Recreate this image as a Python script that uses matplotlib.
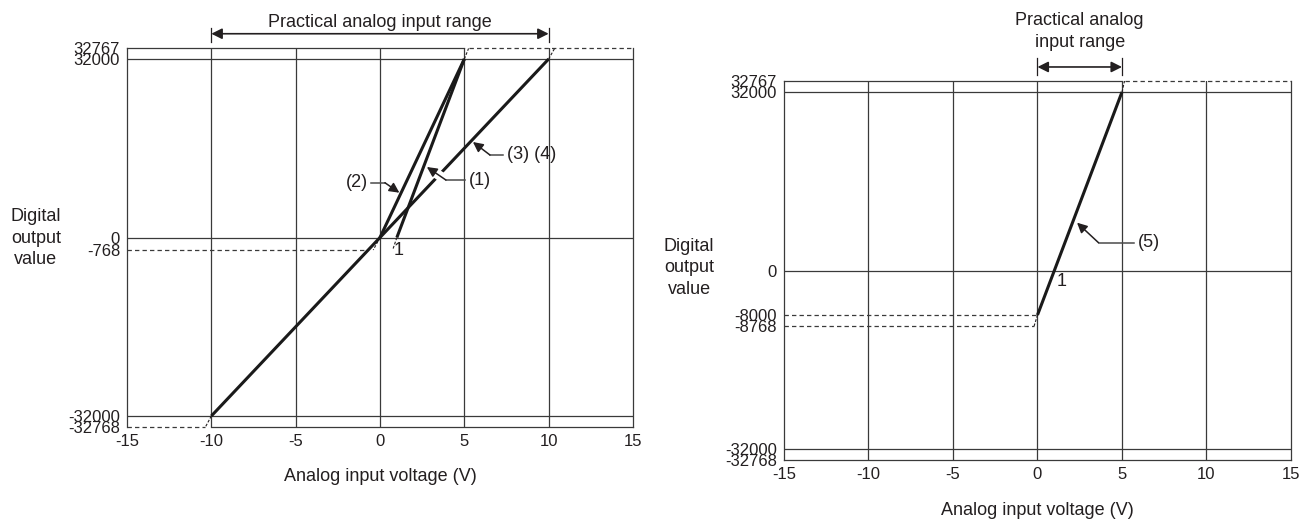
import numpy as np
import matplotlib
matplotlib.use("Agg")
import matplotlib.pyplot as plt
from matplotlib import transforms

plt.rcParams['font.family'] = ['Liberation Sans', 'DejaVu Sans']
plt.rcParams['font.size'] = 13

INK = '#231f20'
GRID = '#3a3a3a'
FS = 13
TICK_FS = 12

VOLT_TICKS = [-15, -10, -5, 0, 5, 10, 15]
LEFT_Y_TICKS = [32767, 32000, 0, -768, -32000, -32768]
RIGHT_Y_TICKS = [32767, 32000, 0, -8000, -8768, -32000, -32768]

# conversion lines
LINE_34_V = [-10, 10]
LINE_34_D = [-32000, 32000]
LINE_2_V = [0, 5]
LINE_2_D = [0, 32000]
LINE_1_V = [1, 5]
LINE_1_D = [0, 32000]
LINE_5_V = [0, 5]
LINE_5_D = [-8000, 32000]

# dashed continuation outside the practical range (V, digital value)
LEFT_EXT = [([5, 5.25], [32000, 32767]),
            ([10, 10.35], [32000, 32767]),
            ([-10, -10.35], [-32000, -32768]),
            ([0, -0.4], [0, -768]),
            ([1, 0.75], [0, -768])]
RIGHT_EXT = [([5, 5.15], [32000, 32767]),
             ([0, -0.2], [-8000, -8768])]

LEFT_RANGE = [-10, 10]
RIGHT_RANGE = [0, 5]

# the diagram is schematic: the small steps (767/768) are drawn stretched
LEFT_SCALE_VALS = [-32768, -32000, -768, 0, 32000, 32767]
LEFT_SCALE_POS = [-189.5, -178.5, -12.5, 0, 178.5, 189]
RIGHT_SCALE_VALS = [-32768, -32000, -8768, -8000, 0, 32000, 32767]
RIGHT_SCALE_POS = [-189.5, -178.5, -55.5, -44.5, 0, 178.5, 189.5]


def piecewise(xp, fp):
    xp = np.asarray(xp, float)
    fp = np.asarray(fp, float)
    lo = (fp[1] - fp[0]) / (xp[1] - xp[0])
    hi = (fp[-1] - fp[-2]) / (xp[-1] - xp[-2])

    def f(v):
        v = np.asarray(v, float)
        out = np.interp(v, xp, fp)
        out = np.where(v < xp[0], fp[0] + (v - xp[0]) * lo, out)
        out = np.where(v > xp[-1], fp[-1] + (v - xp[-1]) * hi, out)
        return out
    return f


def setup_axes(ax, yticks, scale_vals, scale_pos):
    ax.set_yscale('function', functions=(piecewise(scale_vals, scale_pos),
                                         piecewise(scale_pos, scale_vals)))
    ax.set_xlim(-15, 15)
    ax.set_ylim(-32768, 32767)
    ax.set_xticks(VOLT_TICKS)
    ax.set_xticklabels([str(v) for v in VOLT_TICKS])
    ax.set_yticks(yticks)
    ax.set_yticklabels([str(v) for v in yticks])
    ax.yaxis.set_minor_locator(matplotlib.ticker.NullLocator())
    ax.tick_params(length=0, colors=INK, labelsize=TICK_FS)
    ax.tick_params(axis='y', pad=5)
    ax.tick_params(axis='x', pad=5)
    for s in ('top', 'bottom'):
        ax.spines[s].set_visible(False)
    for s in ('left', 'right'):
        ax.spines[s].set_color(GRID)
        ax.spines[s].set_linewidth(0.9)
    for v in VOLT_TICKS[1:-1]:
        ax.axvline(v, color=GRID, lw=0.9, zorder=1)
    for d in (32000, 0, -32000):
        ax.axhline(d, color=GRID, lw=0.9, zorder=1)
    ax.set_xlabel('Analog input voltage (V)', color=INK, fontsize=FS)
    ax.set_ylabel('Digital\noutput\nvalue', rotation=0, color=INK, fontsize=FS,
                  ha='center', va='center', linespacing=1.35)


def hline(ax, x, y, dashed=False):
    ax.plot(x, [y, y], color=GRID, lw=0.9, clip_on=False, zorder=2,
            dashes=(3.5, 2.5) if dashed else (None, None))


def ext_lines(ax, ext):
    for xs, ys in ext:
        ax.plot(xs, ys, color=INK, lw=0.8, dashes=(2.5, 1.5), clip_on=False, zorder=2)


def range_arrow(ax, rng, label, y_text, y_arrow, y_bar):
    tr = transforms.blended_transform_factory(ax.transData, ax.transAxes)
    ax.text(sum(rng) / 2, y_text, label, transform=tr, ha='center', va='center',
            color=INK, fontsize=FS, linespacing=1.45)
    ax.annotate('', xy=(rng[1], y_arrow), xytext=(rng[0], y_arrow), xycoords=tr,
                textcoords=tr, annotation_clip=False,
                arrowprops=dict(arrowstyle='<|-|>', color=INK, lw=1.2,
                                mutation_scale=16, shrinkA=0, shrinkB=0))
    for x in rng:
        ax.plot([x, x], y_bar, transform=tr, color=INK, lw=0.9, clip_on=False)


def callout(ax, label, text_xy, start_x, knee_x, tip, halo=False):
    y = text_xy[1]
    ax.text(text_xy[0], y, label, ha='center', va='center', color=INK, fontsize=FS, zorder=6)
    ax.plot([start_x, knee_x], [y, y], color='#4a4a4a', lw=1.1, zorder=5)
    if halo:
        mx = knee_x + (tip[0] - knee_x) * 0.75
        my = y + (tip[1] - y) * 0.75
        ax.plot([knee_x, mx], [y, my], color='white', lw=7, zorder=4,
                solid_capstyle='butt')
    ax.annotate('', xy=tip, xytext=(knee_x, y),
                arrowprops=dict(arrowstyle='-|>', color=INK, lw=1.1,
                                mutation_scale=15, shrinkA=0, shrinkB=0), zorder=6)


fig = plt.figure(figsize=(13.02, 5.21), dpi=100)
ax1 = fig.add_axes([0.09754, 0.18042, 0.38863, 0.72649])
ax2 = fig.add_axes([0.60215, 0.11708, 0.38940, 0.72745])

# left chart
setup_axes(ax1, LEFT_Y_TICKS, LEFT_SCALE_VALS, LEFT_SCALE_POS)
ax1.yaxis.set_label_coords(-0.18, 0.499)
ax1.xaxis.set_label_coords(0.5, -0.108)
hline(ax1, [-15, 5], 32767)
hline(ax1, [5.25, 15], 32767, dashed=True)
hline(ax1, [-10, 15], -32768)
hline(ax1, [-15, -10.35], -32768, dashed=True)
hline(ax1, [-15, -0.7], -768, dashed=True)
ext_lines(ax1, LEFT_EXT)
for v, d in ((LINE_34_V, LINE_34_D), (LINE_2_V, LINE_2_D), (LINE_1_V, LINE_1_D)):
    ax1.plot(v, d, color='#1a1a1a', lw=2.2, zorder=3, solid_capstyle='butt')
range_arrow(ax1, LEFT_RANGE, 'Practical analog input range', 1.068, 1.039, [1.016, 1.055])
callout(ax1, '(2)', (-1.37, 9820), -0.55, 0.29, (1.15, 8030))
callout(ax1, '(1)', (5.95, 10300), 5.05, 3.91, (2.78, 12640), halo=True)
callout(ax1, '(3) (4)', (9.0, 14790), 7.29, 6.52, (5.51, 17120))
ax1.text(0.8, -768, '1', ha='left', va='center', color=INK, fontsize=FS)

# right chart
setup_axes(ax2, RIGHT_Y_TICKS, RIGHT_SCALE_VALS, RIGHT_SCALE_POS)
ax2.yaxis.set_label_coords(-0.187, 0.507)
ax2.xaxis.set_label_coords(0.5, -0.11)
hline(ax2, [-15, 5], 32767)
hline(ax2, [5.15, 15], 32767, dashed=True)
hline(ax2, [-15, 15], -32768)
hline(ax2, [-15, 0], -8000, dashed=True)
hline(ax2, [-15, -0.2], -8768, dashed=True)
ext_lines(ax2, RIGHT_EXT)
ax2.plot(LINE_5_V, LINE_5_D, color='#1a1a1a', lw=2.2, zorder=3, solid_capstyle='butt')
range_arrow(ax2, RIGHT_RANGE, 'Practical analog\ninput range', 1.1306, 1.037, [1.016, 1.061])
callout(ax2, '(5)', (6.6, 4984), 5.72, 3.61, (2.34, 8570))
ax2.text(1.15, -2010, '1', ha='left', va='center', color=INK, fontsize=FS)

fig.savefig('out.png', dpi=100)
